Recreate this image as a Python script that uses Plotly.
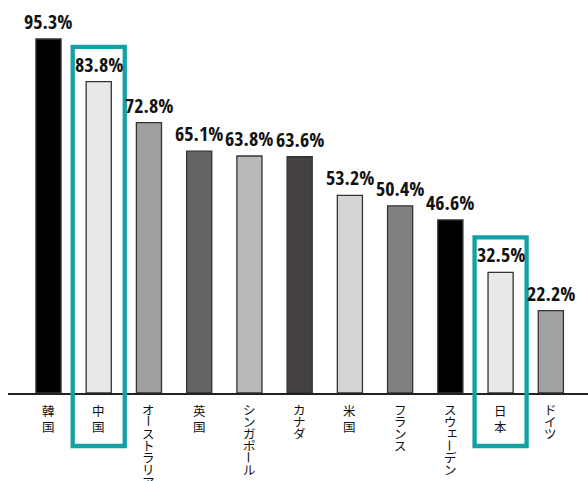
import plotly.graph_objects as go

countries = ["韓国", "中国", "オーストラリア", "英国", "シンガポール", "カナダ",
             "米国", "フランス", "スウェーデン", "日本", "ドイツ"]
values = [95.3, 83.8, 72.8, 65.1, 63.8, 63.6, 53.2, 50.4, 46.6, 32.5, 22.2]
labels = ["95.3%", "83.8%", "72.8%", "65.1%", "63.8%", "63.6%",
          "53.2%", "50.4%", "46.6%", "32.5%", "22.2%"]
colors = ["#000000", "#e8e9e8", "#a0a0a0", "#646464", "#b9b9b9", "#454141",
          "#d4d4d4", "#808080", "#000000", "#e8e9e8", "#a1a2a1"]
highlight = ["中国", "日本"]

YMAX = 105.8
XR = [-0.806, 10.74]
TEAL = "#12a2a5"
SMALL_KANA = "ァィゥェォッャュョ"

fig = go.Figure()
fig.add_trace(go.Bar(
    x=list(range(len(countries))), y=values,
    width=0.5,
    marker=dict(color=colors, line=dict(color="#333333", width=1.3)),
    hoverinfo="skip",
))

annotations = []
for i, (v, lab) in enumerate(zip(values, labels)):
    annotations.append(dict(
        x=i, y=v, xref="x", yref="y", text=lab, showarrow=False,
        yanchor="bottom", xanchor="center", yshift=2,
        font=dict(family="Open Sans Condensed, Open Sans, sans-serif", size=20,
                  color="#111111", weight="bold"),
    ))

for i, name in enumerate(countries):
    offset = 9.0
    for ch in name:
        is_kanji = ord(ch) >= 0x4E00
        small = ch in SMALL_KANA
        adv = 15.5 if is_kanji else 12.0
        annotations.append(dict(
            x=i, y=0, xref="x", yref="paper", text=ch, showarrow=False,
            yanchor="top", xanchor="center",
            yshift=-offset + (2 if small else 0), xshift=2 if small else 0,
            height=adv, borderpad=0,
            textangle=90 if ch == "ー" else 0,
            font=dict(family="Noto Sans CJK JP", size=12.5, color="#111111"),
        ))
        offset += adv

shapes = []
for name in highlight:
    i = countries.index(name)
    v = values[i]
    shapes.append(dict(
        type="rect", xref="x", yref="paper",
        x0=i - 0.518, x1=i + 0.518,
        y0=-53 / 393, y1=(v + 9.4) / YMAX,
        line=dict(color=TEAL, width=4.3), fillcolor="rgba(0,0,0,0)",
    ))

fig.update_layout(
    width=588, height=481,
    margin=dict(l=8, r=0, t=0, b=88),
    paper_bgcolor="white", plot_bgcolor="white",
    showlegend=False,
    xaxis=dict(range=XR, showticklabels=False, ticks="", showgrid=False,
               zeroline=False, showline=True, linecolor="#222222", linewidth=1.5,
               fixedrange=True),
    yaxis=dict(range=[0, YMAX], visible=False, fixedrange=True),
    annotations=annotations,
    shapes=shapes,
)

fig.write_html("out.html")
